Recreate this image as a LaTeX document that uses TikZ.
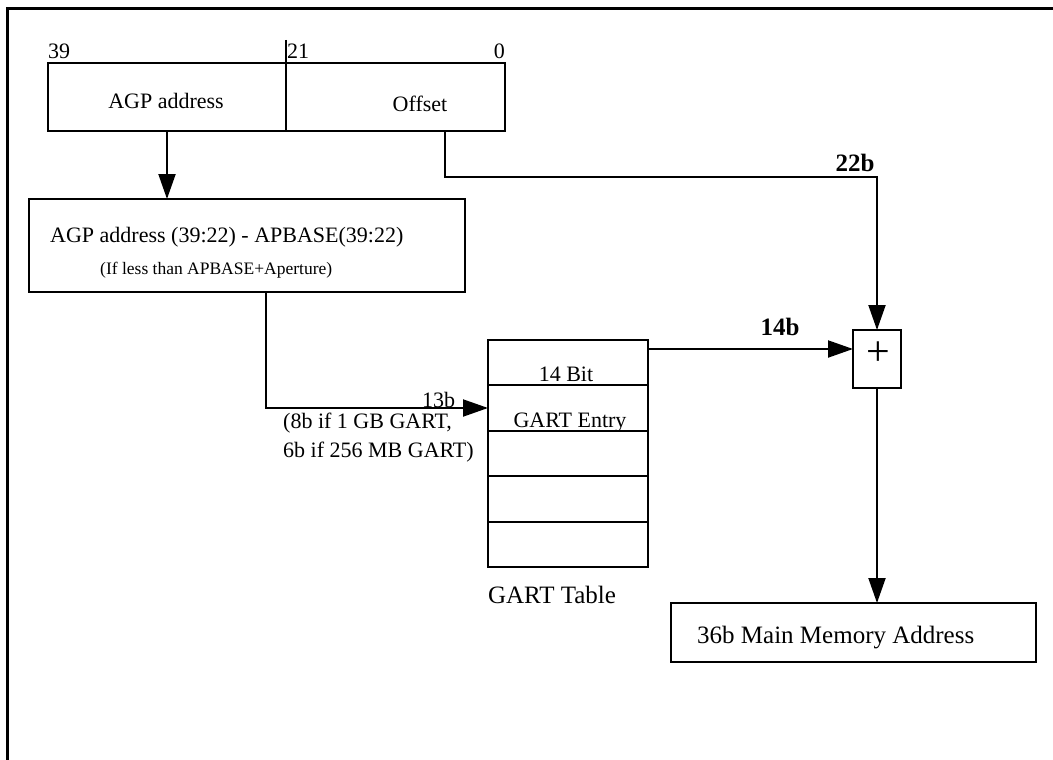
\documentclass[tikz,border=0pt]{standalone}
\usepackage{fontspec}
\setmainfont{Liberation Serif}
\usetikzlibrary{arrows.meta}
\begin{document}
\begin{tikzpicture}[x=1pt,y=-1pt,
  box/.style={draw,line width=2pt,inner sep=0pt,outer sep=0pt,anchor=north west},
  conn/.style={line width=2pt},
  arr/.style={conn,-{Triangle[length=25pt,width=17pt]}},
  t22/.style={inner sep=0pt,font=\fontsize{22}{24}\selectfont},
  t17/.style={inner sep=0pt,font=\fontsize{17.5}{20}\selectfont},
  t25/.style={inner sep=0pt,font=\fontsize{25}{27}\selectfont},
  tb/.style={inner sep=0pt,font=\fontsize{25}{27}\selectfont\bfseries}]
\useasboundingbox (0,0) rectangle (1053,760);
% frame
\draw[line width=3pt] (7.5,760) -- (7.5,9) -- (1053,9);
% top register
\node[box,minimum width=238pt,minimum height=68pt] (agpcell) at (48,63) {};
\node[box,minimum width=219pt,minimum height=68pt] (offcell) at (286,63) {};
\coordinate (divtop) at (286,40);
\draw[conn] (divtop) -- (offcell.north west);
% subtraction box
\node[box,minimum width=436pt,minimum height=93pt] (calc) at (29,199) {};
% GART table rows
\node[box,minimum width=160pt,minimum height=45.4pt] (r1) at (488,340) {};
\node[box,minimum width=160pt,minimum height=45.4pt] (r2) at (488,385.4) {};
\node[box,minimum width=160pt,minimum height=45.4pt] (r3) at (488,430.8) {};
\node[box,minimum width=160pt,minimum height=45.4pt] (r4) at (488,476.2) {};
\node[box,minimum width=160pt,minimum height=45.4pt] (r5) at (488,521.6) {};
% adder
\node[box,minimum width=48pt,minimum height=58pt] (plusbox) at (853,330) {};
% result
\node[box,minimum width=365pt,minimum height=59pt] (mem) at (671,603) {};
% texts
\node[t22,anchor=base west] (l39) at (48,59) {39};
\node[t22,anchor=base west] (l21) at (287,59) {21};
\node[t22,anchor=base east] (l0) at (505,59) {0};
\node[t22,anchor=base] (tagp) at (166,109) {AGP address};
\node[t22,anchor=base] (toff) at (420,111) {Offset};
\node[t22,anchor=base west] (tcalc1) at (50,242) {AGP address (39:22) - APBASE(39:22)};
\node[t17,anchor=base west] (tcalc2) at (100,274) {(If less than APBASE+Aperture)};
\node[t22,anchor=base] (t14bit) at (566,381) {14 Bit};
\node[t22,anchor=base] (tentry) at (570,427) {GART Entry};
\node[t22,anchor=base west] (t13b) at (422,407) {13b};
\node[t22,anchor=base west] (tnote1) at (283,428) {(8b if 1 GB GART,};
\node[t22,anchor=base west] (tnote2) at (283,457) {6b if 256 MB GART)};
\node[t25,anchor=base] (tgart) at (552,603) {GART Table};
\node[tb,anchor=base] (t22b) at (855,171) {22b};
\node[tb,anchor=base] (t14b) at (780,335) {14b};
\node[t25,anchor=base west] (tmem) at (697,643) {36b Main Memory Address};
\node[inner sep=0pt,font=\fontsize{42}{42}\selectfont] (plus) at (878,354) {+};
% connectors
\draw[arr] (agpcell.south) -- (calc.north -| agpcell.south);
\coordinate (offout) at (445,131);
\draw[arr] (offout) -- ++(0,46) -| (plusbox.north);
\coordinate (calcout) at (266,292);
\coordinate (gin) at (488,408);
\draw[arr] (calcout) |- (gin);
\coordinate (gout) at (648,349);
\draw[arr] (gout) -- (gout -| plusbox.west);
\draw[arr] (plusbox.south) -- (mem.north -| plusbox.south);
\end{tikzpicture}
\end{document}
